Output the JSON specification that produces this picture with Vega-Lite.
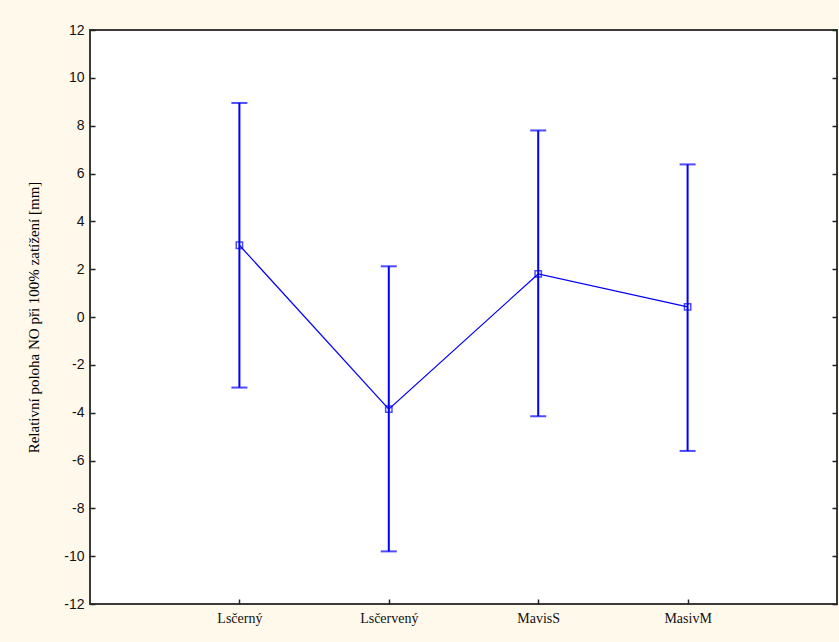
{
  "$schema": "https://vega.github.io/schema/vega-lite/v6.json",
  "width": 747,
  "height": 574,
  "autosize": {"type": "none"},
  "padding": {"left": 90, "top": 30, "right": 2, "bottom": 38},
  "background": "#FFF9EC",
  "config": {
    "view": {"fill": "#FFFFFF", "stroke": "#3a3a3a", "strokeWidth": 2},
    "axis": {"grid": false, "domain": false, "tickColor": "#222222", "tickWidth": 1.5, "tickSize": -5}
  },
  "data": {
    "values": [
      {"idx": 1, "group": "Lsčerný", "mean": 3.0, "lower": -2.95, "upper": 8.95},
      {"idx": 2, "group": "Lsčervený", "mean": -3.85, "lower": -9.8, "upper": 2.12},
      {"idx": 3, "group": "MavisS", "mean": 1.8, "lower": -4.15, "upper": 7.8},
      {"idx": 4, "group": "MasivM", "mean": 0.42, "lower": -5.6, "upper": 6.38}
    ]
  },
  "encoding": {
    "x": {
      "field": "idx", "type": "quantitative",
      "scale": {"domain": [0, 5], "nice": false, "zero": false},
      "axis": {
        "title": null, "values": [1, 2, 3, 4],
        "labelExpr": "datum.value == 1 ? 'Lsčerný' : datum.value == 2 ? 'Lsčervený' : datum.value == 3 ? 'MavisS' : 'MasivM'",
        "labelFont": "Liberation Serif", "labelFontSize": 14, "labelColor": "#111111", "labelPadding": 12
      }
    }
  },
  "layer": [
    {
      "mark": {"type": "rule", "color": "#0000FF", "strokeWidth": 2},
      "encoding": {
        "y": {
          "field": "lower", "type": "quantitative",
          "scale": {"domain": [-12, 12], "nice": false},
          "axis": {
            "orient": "left", "values": [-12, -10, -8, -6, -4, -2, 0, 2, 4, 6, 8, 10, 12],
            "labelExpr": "'' + datum.value",
            "title": "Relativní poloha NO při 100% zatížení [mm]",
            "titleFont": "Liberation Serif", "titleFontSize": 15, "titleFontWeight": "normal",
            "titleColor": "#000000", "titlePadding": 22,
            "labelFont": "Liberation Sans", "labelFontSize": 14, "labelColor": "#111111", "labelPadding": 11
          }
        },
        "y2": {"field": "upper"}
      }
    },
    {
      "mark": {"type": "tick", "orient": "horizontal", "color": "#0000FF", "size": 16, "thickness": 2},
      "encoding": {"y": {"field": "upper", "type": "quantitative", "axis": null}}
    },
    {
      "mark": {"type": "tick", "orient": "horizontal", "color": "#0000FF", "size": 16, "thickness": 2},
      "encoding": {"y": {"field": "lower", "type": "quantitative", "axis": null}}
    },
    {
      "mark": {"type": "line", "color": "#0000FF", "strokeWidth": 1.2},
      "encoding": {"y": {"field": "mean", "type": "quantitative", "axis": null}}
    },
    {
      "mark": {"type": "point", "shape": "square", "filled": false, "color": "#0000FF", "size": 40, "strokeWidth": 1.5},
      "encoding": {
        "y": {
          "field": "mean", "type": "quantitative",
          "axis": {"orient": "right", "values": [-12, -10, -8, -6, -4, -2, 0, 2, 4, 6, 8, 10, 12], "labels": false, "title": null}
        }
      }
    }
  ],
  "resolve": {"axis": {"y": "independent"}}
}
